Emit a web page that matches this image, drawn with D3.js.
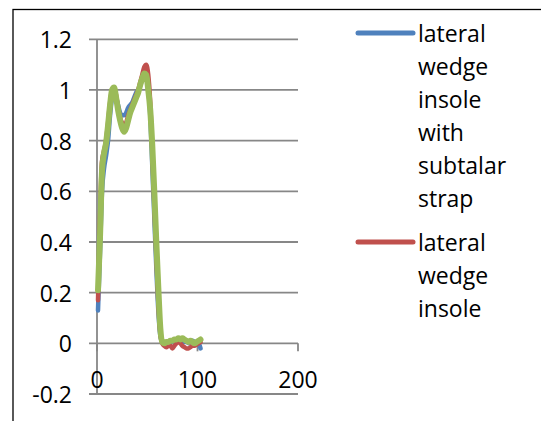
<!DOCTYPE html>
<html>
<head>
<meta charset="utf-8">
<script src="https://cdn.jsdelivr.net/npm/d3@7"></script>
<style>
  body { margin: 0; background: #fff; }
  text { font-family: "Open Sans", sans-serif; fill: #000; }
</style>
</head>
<body>
<div id="chart"></div>
<script>
// data
var xs = [1,3,5,7,9,11,13,15,17,19,21,23,25,27,29,31,33,35,37,39,41,43,45,47,49,51,
          53,55,57,59,61,63,65,67,69,71,73,75,77,79,81,83,85,87,89,91,93,95,97,99,101,103];
var blueVals = [0.13,0.36,0.6,0.69,0.74,0.8,0.9,0.97,0.99,0.97,0.94,0.91,0.9,0.9,0.91,0.93,0.94,0.95,0.97,0.99,1.0,1.02,1.04,1.065,1.065,1.01,
                0.9,0.7,0.5,0.3,0.13,0.03,0.005,0.005,0.0,0.005,0.01,0.005,0.01,0.015,0.01,0.015,0.01,0.005,0.01,0.0,0.005,0.01,0.005,0.0,0.0,-0.02];
var redVals = [0.17,0.5,0.72,0.76,0.8,0.87,0.95,1.0,1.01,0.98,0.93,0.89,0.87,0.86,0.87,0.9,0.92,0.94,0.96,0.98,1.0,1.03,1.06,1.09,1.1,1.06,
               0.95,0.76,0.55,0.35,0.16,0.04,0.0,-0.01,-0.015,-0.01,-0.01,-0.02,-0.01,0.0,0.005,0.0,-0.01,-0.015,-0.02,-0.02,-0.015,-0.01,-0.01,-0.005,0.0,0.005];
var greenVals = [0.21,0.42,0.68,0.75,0.79,0.86,0.94,1.0,1.01,0.97,0.92,0.88,0.85,0.835,0.85,0.88,0.91,0.93,0.95,0.97,0.99,1.02,1.045,1.065,1.06,1.0,
                 0.92,0.78,0.6,0.4,0.22,0.06,0.005,0.0,0.005,0.005,0.01,0.01,0.015,0.015,0.02,0.015,0.02,0.015,0.01,0.005,0.01,0.005,0.0,0.005,0.01,0.015];
var seriesNames = ["lateral wedge insole with subtalar strap", "lateral wedge insole", "shoe"];
var seriesColors = ["#4F81BD", "#C0504D", "#9BBB59"];
var yTicks = [-0.2, 0, 0.2, 0.4, 0.6, 0.8, 1, 1.2];
var xTicks = [0, 100, 200];
// legend lines as wrapped in the picture (third entry is cut off)
var legendLines = [["lateral","wedge","insole","with","subtalar","strap"],
                   ["lateral","wedge","insole"]];

var w = 541, h = 421;
var svg = d3.select("#chart").append("svg").attr("width", w).attr("height", h);

// outer chart border (runs off the right and bottom)
svg.append("rect")
  .attr("x", 13).attr("y", 9.5)
  .attr("width", 600).attr("height", 500)
  .attr("fill", "none").attr("stroke", "#000").attr("stroke-width", 1.3);

var x = d3.scaleLinear().domain([0, 200]).range([97, 298]);
var y = d3.scaleLinear().domain([-0.2, 1.2]).range([394, 39.3]);
var gridCol = "#878787";

// horizontal gridlines, with outer tick stubs on the left
svg.append("g").selectAll("line").data(yTicks).enter().append("line")
  .attr("x1", 89).attr("x2", x(200))
  .attr("y1", function(d){ return y(d); }).attr("y2", function(d){ return y(d); })
  .attr("stroke", gridCol).attr("stroke-width", 1.8);

// y axis line
svg.append("line")
  .attr("x1", x(0)).attr("x2", x(0)).attr("y1", y(1.2)).attr("y2", y(-0.2))
  .attr("stroke", gridCol).attr("stroke-width", 1.8);

// x tick marks down from zero line
svg.append("g").selectAll("line").data(xTicks).enter().append("line")
  .attr("x1", function(d){ return x(d); }).attr("x2", function(d){ return x(d); })
  .attr("y1", y(0)).attr("y2", y(0) + 8)
  .attr("stroke", gridCol).attr("stroke-width", 1.8);

// y labels
svg.append("g").selectAll("text").data(yTicks).enter().append("text")
  .attr("x", 72).attr("y", function(d){ return y(d); })
  .attr("text-anchor", "end").attr("dominant-baseline", "central")
  .style("font-size", "23px")
  .text(function(d){ return d; });

// x labels
svg.append("g").selectAll("text").data(xTicks).enter().append("text")
  .attr("x", function(d){ return x(d); }).attr("y", 379)
  .attr("text-anchor", "middle").attr("dominant-baseline", "central")
  .style("font-size", "23px")
  .text(function(d){ return d; });

// series
var allVals = [blueVals, redVals, greenVals];
var widths = [4.5, 4.5, 6];
var line = d3.line()
  .x(function(d){ return x(d[0]); })
  .y(function(d){ return y(d[1]); })
  .curve(d3.curveMonotoneX);
for (var i = 0; i < allVals.length; i++) {
  var pts = xs.map(function(v, j){ return [v, allVals[i][j]]; });
  svg.append("path")
    .attr("d", line(pts))
    .attr("fill", "none")
    .attr("stroke", seriesColors[i])
    .attr("stroke-width", widths[i])
    .attr("stroke-linejoin", "round")
    .attr("stroke-linecap", "round");
}

// legend
var legTop = [33, 242];
var lineGap = 33;
for (var k = 0; k < legendLines.length; k++) {
  svg.append("line")
    .attr("x1", 358).attr("x2", 413)
    .attr("y1", legTop[k]).attr("y2", legTop[k])
    .attr("stroke", seriesColors[k]).attr("stroke-width", 5)
    .attr("stroke-linecap", "round");
  svg.append("g").selectAll("text").data(legendLines[k]).enter().append("text")
    .attr("x", 418)
    .attr("y", function(d, j){ return legTop[k] + j * lineGap; })
    .attr("dominant-baseline", "central")
    .style("font-size", "23px")
    .text(function(d){ return d; });
}
</script>
</body>
</html>
